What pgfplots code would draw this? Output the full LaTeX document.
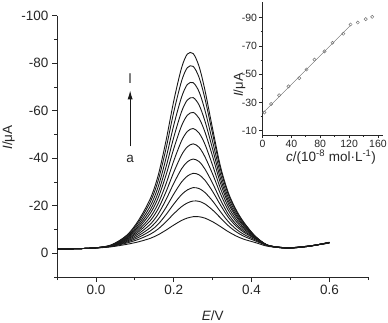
\documentclass[border=0pt]{standalone}
\usepackage{fontspec}
\setmainfont{Liberation Sans}
\usepackage{pgfplots}
\usepackage{pgfplotstable}
\pgfplotsset{compat=1.18}
\usetikzlibrary{arrows.meta}

\pgfplotstableread{
E k1 k2 k3 k4 k5 k6 k7 k8 k9 k10 k11 k12
-0.10 -1.8 -1.8 -1.8 -1.8 -1.8 -1.8 -1.8 -1.8 -1.8 -1.8 -1.8 -1.8
-0.05 -1.9 -1.9 -1.9 -1.9 -1.9 -1.9 -1.9 -1.9 -1.9 -1.9 -1.9 -1.9
0.00 -2.2 -2.25 -2.25 -2.3 -2.3 -2.3 -2.3 -2.3 -2.3 -2.3 -2.3 -2.3
0.04 -2.72 -2.87 -2.96 -3.02 -3.08 -3.16 -3.20 -3.27 -3.30 -3.39 -3.48 -3.54
0.08 -3.78 -4.35 -4.73 -5.08 -5.42 -5.76 -6.04 -6.38 -6.66 -7.02 -7.41 -7.70
0.11 -4.84 -5.89 -6.69 -7.47 -8.26 -9.08 -9.84 -10.71 -11.48 -12.32 -13.26 -13.99
0.14 -6.30 -8.05 -9.44 -10.82 -12.26 -13.78 -15.25 -16.86 -18.32 -19.93 -21.66 -23.07
0.16 -7.79 -10.23 -12.24 -14.31 -16.49 -18.72 -20.94 -23.33 -25.55 -27.99 -30.61 -32.78
0.18 -9.72 -13.23 -16.21 -19.24 -22.50 -25.82 -29.15 -32.83 -36.20 -39.89 -43.89 -47.25
0.20 -11.86 -16.60 -20.67 -24.91 -29.42 -34.10 -38.87 -43.99 -48.78 -53.88 -59.44 -64.10
0.22 -13.80 -19.61 -24.66 -29.97 -35.52 -41.33 -47.30 -53.63 -59.56 -65.68 -72.42 -77.99
0.235 -14.81 -21.17 -26.65 -32.48 -38.49 -44.81 -51.28 -58.11 -64.51 -71.05 -78.14 -83.86
0.25 -15.39 -22.00 -27.62 -33.65 -39.65 -46.05 -52.52 -59.28 -65.50 -71.80 -78.65 -84.05
0.265 -15.37 -21.85 -27.25 -33.03 -38.62 -44.62 -50.63 -56.82 -62.44 -68.04 -74.08 -78.68
0.28 -14.79 -20.78 -25.60 -30.77 -35.49 -40.66 -45.95 -51.13 -55.73 -60.31 -65.23 -68.79
0.30 -13.25 -18.18 -21.98 -26.01 -29.42 -33.32 -36.97 -40.73 -43.83 -46.92 -50.19 -52.30
0.32 -11.24 -14.91 -17.52 -20.33 -22.50 -25.03 -27.30 -29.53 -31.50 -33.44 -35.45 -36.60
0.34 -9.09 -11.63 -13.35 -15.18 -16.49 -18.14 -19.60 -21.06 -22.23 -23.54 -24.86 -25.59
0.36 -7.30 -9.07 -10.21 -11.47 -12.31 -13.45 -14.44 -15.46 -16.19 -17.07 -17.92 -18.41
0.38 -5.91 -7.17 -7.95 -8.83 -9.41 -10.14 -10.77 -11.39 -11.81 -12.32 -12.83 -13.07
0.41 -4.48 -5.19 -5.61 -6.03 -6.21 -6.49 -6.67 -6.84 -6.87 -6.97 -7.07 -7.03
0.44 -2.97 -3.28 -3.36 -3.47 -3.42 -3.46 -3.44 -3.47 -3.43 -3.41 -3.42 -3.36
0.47 -2.48 -2.57 -2.56 -2.57 -2.51 -2.53 -2.52 -2.50 -2.45 -2.42 -2.42 -2.42
0.50 -2.31 -2.33 -2.31 -2.29 -2.28 -2.26 -2.23 -2.22 -2.20 -2.19 -2.18 -2.16
0.55 -3.1 -3.1 -3.1 -3.05 -3.05 -3.05 -3.05 -3.0 -3.0 -3.0 -3.0 -3.0
0.60 -4.3 -4.35 -4.4 -4.4 -4.45 -4.45 -4.5 -4.5 -4.55 -4.55 -4.6 -4.6
}\curves

\pgfplotstableread{
c I
2.5 -22.9
12 -28.9
23 -35.1
36 -41.4
51 -47.2
61 -53.3
72 -60.3
86 -66.1
97 -72.2
112 -78.6
122 -85.1
132 -86.5
143 -88.9
152 -90.5
}\calib

\begin{document}
\begin{tikzpicture}[x=1pt,y=1pt]
\begin{axis}[
  at={(212.65pt,175.65pt)}, anchor=center,
  scale only axis, width=311.3pt, height=261.3pt,
  xmin=-0.1, xmax=0.7, ymin=-100, ymax=10, y dir=reverse,
  axis x line*=bottom, axis y line*=left,
  axis line style={line width=0.7pt, black!85},
  xtick={0,0.2,0.4,0.6}, xticklabels={0.0,0.2,0.4,0.6},
  minor xtick={-0.1,0.1,0.3,0.5,0.7},
  ytick={-100,-80,-60,-40,-20,0}, yticklabels={-100,-80,-60,-40,-20,0},
  minor ytick={-90,-70,-50,-30,-10,10},
  tick align=outside, major tick length=5pt, minor tick length=3pt,
  every tick/.style={black!85, line width=0.7pt},
  ticklabel style={font=\fontsize{13.5}{15}\selectfont, black!85},
  clip=false,
]
\pgfplotsinvokeforeach{1,...,12}{
  \addplot[black!90, line width=0.9pt, smooth, no marks] table[x=E, y=k#1] {\curves};
}
\draw[-{Latex[length=9pt,width=5pt]}, line width=0.9pt, black!90] (axis cs:0.088,-45) -- (axis cs:0.088,-68.6);
\node[font=\fontsize{13.5}{15}\selectfont, black!85] at (axis cs:0.088,-73.6) {l};
\node[font=\fontsize{13.5}{15}\selectfont, black!85] at (axis cs:0.088,-39.6) {a};
\end{axis}

\begin{axis}[
  at={(322.75pt,253.5pt)}, anchor=center,
  scale only axis, width=120.5pt, height=133pt,
  xmin=0, xmax=167, ymin=-101, ymax=-7, y dir=reverse,
  axis x line*=bottom, axis y line*=left,
  axis line style={line width=0.6pt, black!85},
  xtick={0,40,80,120,160}, xticklabels={0,40,80,120,160},
  ytick={-90,-70,-50,-30,-10}, yticklabels={-90,-70,-50,-30,-10},
  minor tick num=1,
  tick align=outside, major tick length=3.5pt, minor tick length=2pt,
  every tick/.style={black!85, line width=0.6pt},
  ticklabel style={font=\fontsize{10.5}{12}\selectfont, black!85},
  xticklabel style={yshift=1.5pt},
  yticklabel style={xshift=1.5pt},
]
\addplot[black!60, line width=0.5pt, no marks] coordinates {(0,-22.3) (122,-84.5)};
\addplot[only marks, mark=o, mark size=1.6pt, black!55, mark options={line width=0.5pt}] table[x=c, y=I] {\calib};
\end{axis}

\node[rotate=90, font=\fontsize{13.5}{15}\selectfont, black!85] at (8.5,184.5) {\textit{I}/μA};
\node[font=\fontsize{13.5}{15}\selectfont, black!85] at (212.7,6.5) {\textit{E}/V};
\node[rotate=90, font=\fontsize{13}{14}\selectfont, black!85] at (239.5,237) {\textit{I}/μA};
\node[font=\fontsize{13.5}{15}\selectfont, black!85] at (331,165) {\textit{c}/(10\textsuperscript{-8} mol·L\textsuperscript{-1})};

\pgfresetboundingbox
\path[use as bounding box] (0,0) rectangle (388,322);
\end{tikzpicture}
\end{document}
